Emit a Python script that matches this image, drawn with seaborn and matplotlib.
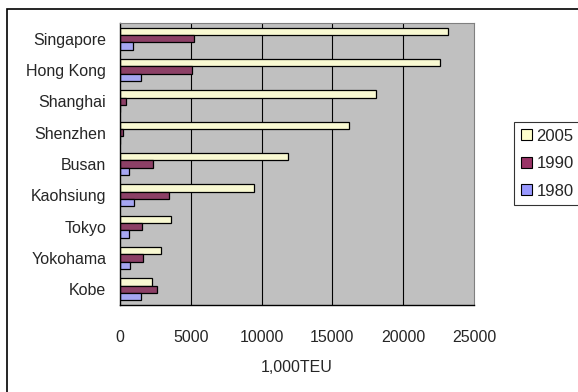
import matplotlib
matplotlib.use("Agg")
import matplotlib.pyplot as plt
import matplotlib.patches as mpatches
from matplotlib.ticker import FixedLocator
import seaborn as sns
import pandas as pd
import numpy as np

ports = ["Singapore", "Hong Kong", "Shanghai", "Shenzhen", "Busan",
         "Kaohsiung", "Tokyo", "Yokohama", "Kobe"]
years = ["2005", "1990", "1980"]
v2005 = [23192, 22602, 18084, 16197, 11843, 9471, 3593, 2873, 2262]
v1990 = [5224, 5101, 456, 200, 2348, 3495, 1555, 1648, 2596]
v1980 = [917, 1465, 30, 0, 634, 979, 632, 722, 1456]
xticks = [0, 5000, 10000, 15000, 20000, 25000]
xlabel = "1,000TEU"

colors = {"2005": "#FFFFCC", "1990": "#993366", "1980": "#9999FF"}

df = pd.DataFrame({
    "port": ports * 3,
    "year": ["2005"] * 9 + ["1990"] * 9 + ["1980"] * 9,
    "teu": v2005 + v1990 + v1980,
})

sns.set_theme(style="white")
plt.rcParams["font.family"] = ["Liberation Sans", "DejaVu Sans"]

fig = plt.figure(figsize=(5.78, 3.92), dpi=100)
ax = fig.add_axes([120/578, 1-305/392, (474-120)/578, (305-23)/392])

sns.barplot(data=df, x="teu", y="port", hue="year", order=ports,
            hue_order=years, palette=colors, orient="h", width=0.7,
            edgecolor="black", linewidth=0.9, ax=ax, legend=True)

ax.set_facecolor("#C0C0C0")
ax.set_xlim(0, 25000)
ax.set_ylim(len(ports) - 0.5, -0.5)
ax.set_xticks(xticks)
ax.set_xticklabels([str(t) for t in xticks], fontsize=11.5)
ax.tick_params(axis="x", length=0, pad=18)
ax.tick_params(axis="y", which="major", length=0, pad=10, labelsize=11.5)
ax.yaxis.set_minor_locator(FixedLocator(np.arange(-0.5, len(ports), 1)))
ax.tick_params(axis="y", which="minor", direction="in", length=5, width=0.8, color="black")
for x in xticks[1:-1]:
    ax.axvline(x, color="black", linewidth=0.8, zorder=0.5)
ax.set_xlabel(xlabel, fontsize=11.5, labelpad=11)
ax.set_ylabel("")
for s in ["left", "bottom"]:
    ax.spines[s].set_color("black")
    ax.spines[s].set_linewidth(1.0)
for s in ["top", "right"]:
    ax.spines[s].set_color("#808080")
    ax.spines[s].set_linewidth(0.8)
ax.set_axisbelow(True)

handles = [mpatches.Patch(facecolor=colors[y], edgecolor="black", linewidth=0.8) for y in years]
leg = ax.legend(handles, years, loc="upper left", bbox_to_anchor=(514/578, 1-122/392),
                bbox_transform=fig.transFigure, frameon=True, fontsize=12,
                handlelength=0.65, handleheight=0.65, handletextpad=0.3,
                borderpad=0.4, labelspacing=0.75, fancybox=False,
                borderaxespad=0)
leg.get_frame().set_edgecolor("black")
leg.get_frame().set_linewidth(0.8)

fig.patches.append(mpatches.Rectangle((7/578, -0.1), 1.2, 1 - 9/392 + 0.1,
                                      transform=fig.transFigure, fill=False,
                                      edgecolor="black", linewidth=1.2, clip_on=False))

fig.savefig("out.png", dpi=100)
